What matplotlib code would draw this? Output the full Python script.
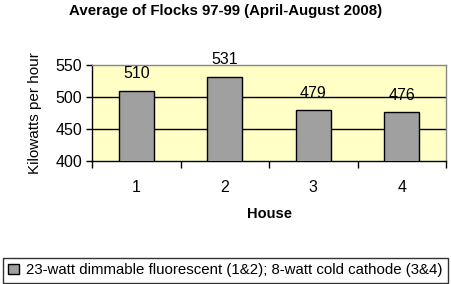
import matplotlib
matplotlib.use('Agg')
import matplotlib.pyplot as plt

plt.rcParams['font.family'] = ['Liberation Sans', 'DejaVu Sans']

houses = ['1', '2', '3', '4']
kw_per_hour = [510, 531, 479, 476]
series_name = '23-watt dimmable fluorescent (1&2); 8-watt cold cathode (3&4)'
y_ticks = [400, 450, 500, 550]

fig = plt.figure(figsize=(4.51, 2.84), dpi=100)
ax = fig.add_axes([0.204, 0.433, 0.785, 0.338])
ax.set_facecolor('#ffffc6')

x = list(range(len(houses)))
bars = ax.bar(x, kw_per_hour, width=0.4, color='#a0a0a0', edgecolor='black',
              linewidth=1.0, zorder=3, label=series_name)

# gridlines
for v in y_ticks[1:-1]:
  ax.axhline(v, color='black', linewidth=1.0, zorder=1)

for xi, v in zip(x, kw_per_hour):
  ax.annotate(str(v), (xi, v), xytext=(0, 7), textcoords='offset points',
              ha='center', va='bottom', fontsize=11.5, clip_on=False)

ax.set_ylim(400, 550)
ax.set_xlim(-0.5, len(houses) - 0.5)
ax.set_yticks(y_ticks)
ax.set_xticks([i - 0.5 for i in range(len(houses) + 1)])
ax.set_xticklabels([])
ax.set_xticks(x, minor=True)
ax.set_xticklabels(houses, minor=True)
ax.tick_params(axis='x', which='major', length=5, width=1, direction='out')
ax.tick_params(axis='x', which='minor', length=0, pad=14, labelsize=11.5)
ax.tick_params(axis='y', length=4, width=1, direction='out', pad=3, labelsize=11.5)

ax.spines['left'].set_color('black')
ax.spines['bottom'].set_color('black')
ax.spines['top'].set_color('#888888')
ax.spines['right'].set_color('#888888')
for s in ax.spines.values():
  s.set_linewidth(1.0)

ax.set_ylabel('Kilowatts per hour', fontsize=11, labelpad=10)
ax.set_xlabel('House', fontsize=10.5, fontweight='bold', labelpad=8)
fig.suptitle('Average of Flocks 97-99 (April-August 2008)', fontsize=10.8,
             fontweight='bold', y=0.985)

leg = fig.legend(handles=[bars], labels=[series_name], loc='lower center',
                 bbox_to_anchor=(0.5, 0.005), fontsize=10.8, frameon=True,
                 fancybox=False, handlelength=0.7, handleheight=0.7,
                 handletextpad=0.5, borderpad=0.35, borderaxespad=0)
leg.get_frame().set_edgecolor('black')
leg.get_frame().set_linewidth(1.0)

plt.savefig('out.png', dpi=100)
